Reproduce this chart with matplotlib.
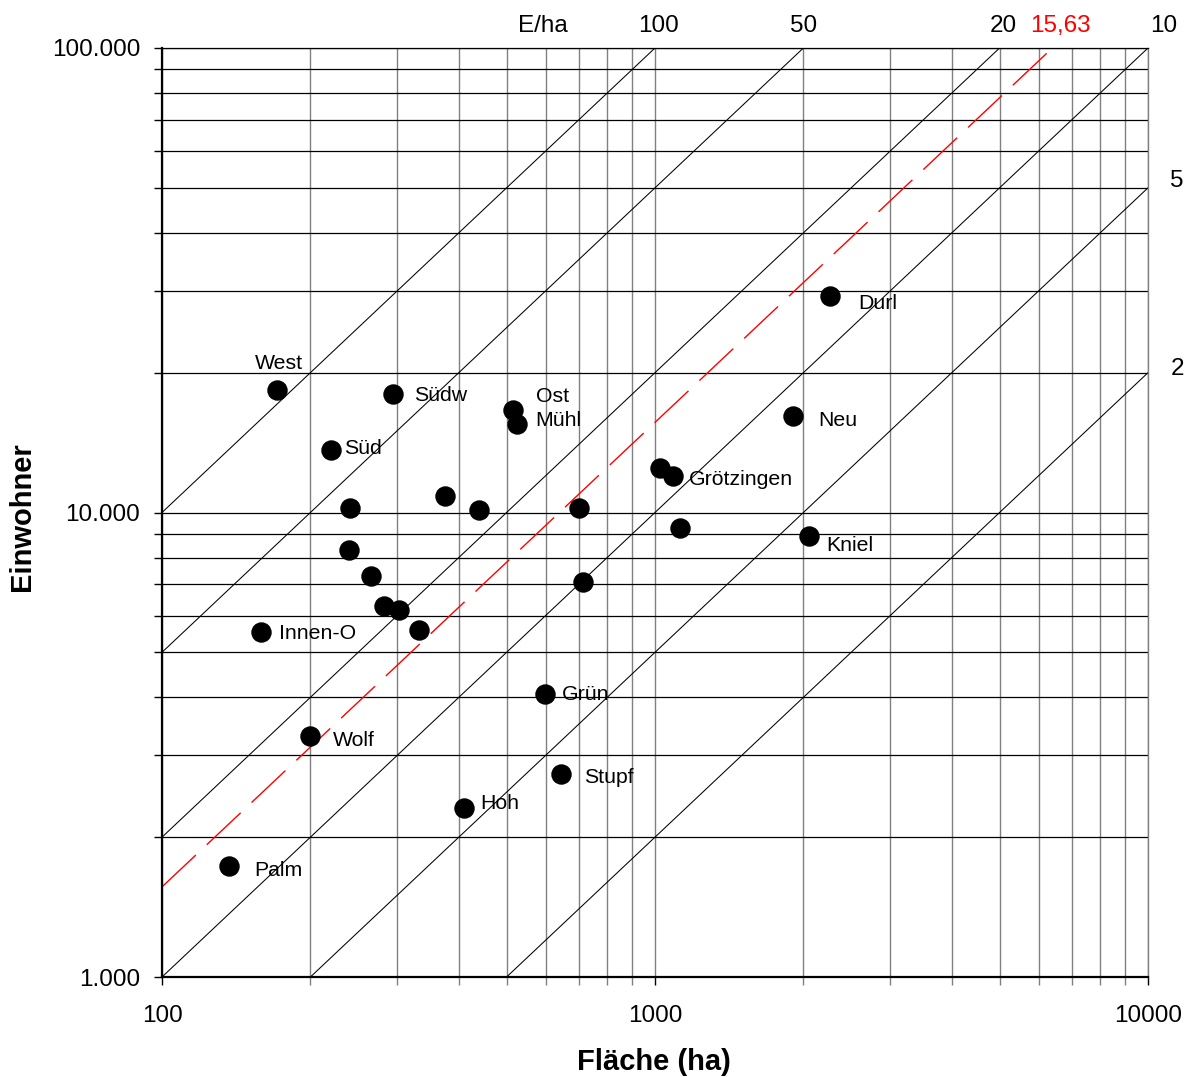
import matplotlib
matplotlib.use("Agg")
import matplotlib.pyplot as plt
from matplotlib.ticker import LogLocator, NullFormatter

plt.rcParams['font.family'] = ['Liberation Sans', 'DejaVu Sans']

# Stadtteile: Fläche (ha) und Einwohner
districts = ["West", "Südw", "Ost", "Mühl", "Süd", "Durl", "Neu", "", "Grötzingen",
             "", "", "", "", "", "Kniel", "", "", "", "", "", "", "Innen-O",
             "Grün", "Wolf", "Stupf", "Hoh", "Palm"]
area_ha = [171, 294, 514, 524, 220, 2267, 1905, 1023, 1088,
           375, 440, 241, 701, 1124, 2053, 239, 265, 714, 282, 302, 332, 159,
           598, 200, 645, 410, 137]
residents = [18350, 18000, 16620, 15500, 13630, 29250, 16130, 12470, 11980,
             10850, 10120, 10220, 10230, 9260, 8900, 8305, 7300, 7085, 6290, 6170, 5585, 5530,
             4067, 3303, 2735, 2311, 1734]

# Linien gleicher Dichte (E/ha) und Gesamtdichte
density_lines = [100, 50, 20, 10, 5, 2]
mean_density = 15.63

x_ticks = [100, 1000, 10000]
x_tick_labels = ["100", "1000", "10000"]
y_ticks = [1000, 10000, 100000]
y_tick_labels = ["1.000", "10.000", "100.000"]

# label placement (pixel offsets from the marker centre, y upwards)
label_offsets = {
    "West": (2, 27, "center"),
    "Südw": (21, -2, "left"),
    "Ost": (23, 14, "left"),
    "Mühl": (19, 4, "left"),
    "Süd": (13, 2, "left"),
    "Durl": (28, -8, "left"),
    "Neu": (25, -4, "left"),
    "Grötzingen": (16, -3, "left"),
    "Kniel": (17, -9, "left"),
    "Innen-O": (18, -1, "left"),
    "Grün": (17, -1, "left"),
    "Wolf": (22, -5, "left"),
    "Stupf": (23, -3, "left"),
    "Hoh": (16, 5, "left"),
    "Palm": (25, -5, "left"),
}
density_label_offsets = {100: (3, 22), 50: (0, 22), 20: (4, 22), 10: (16, 22),
                         5: (29, 7), 2: (29, 4)}

W, H = 1188, 1077
fig = plt.figure(figsize=(W / 100, H / 100), dpi=100)
ax = fig.add_axes([162 / W, 1 - 977 / H, (1148 - 162) / W, (977 - 48) / H])
ax.set_xscale("log")
ax.set_yscale("log")
xmin, xmax, ymin, ymax = 100, 10000, 1000, 100000
ax.set_xlim(xmin, xmax)
ax.set_ylim(ymin, ymax)

ax.xaxis.set_minor_locator(LogLocator(base=10, subs=range(2, 10)))
ax.yaxis.set_minor_locator(LogLocator(base=10, subs=range(2, 10)))
ax.xaxis.set_minor_formatter(NullFormatter())
ax.yaxis.set_minor_formatter(NullFormatter())
ax.set_xticks(x_ticks, x_tick_labels)
ax.set_yticks(y_ticks, y_tick_labels)

ax.set_axisbelow(True)
ax.grid(which="both", axis="x", color="#808080", lw=1.0)
ax.grid(which="both", axis="y", color="black", lw=0.9)

ax.tick_params(axis="both", which="both", direction="out", length=5.8, width=1.0)
ax.tick_params(axis="x", which="minor", color="#808080")
ax.tick_params(axis="y", which="both", labelsize=17.5, pad=10)
ax.tick_params(axis="x", which="both", labelsize=17.5, pad=14)

for side in ("left", "bottom"):
    ax.spines[side].set_linewidth(1.6)
    ax.spines[side].set_color("black")
ax.spines["top"].set_linewidth(0.9)
ax.spines["top"].set_color("black")
ax.spines["right"].set_linewidth(1.0)
ax.spines["right"].set_color("#808080")

# Dichtelinien
for d in density_lines:
    ax.plot([xmin, xmax], [d * xmin, d * xmax], color="black", lw=0.75, zorder=2)
    if ymax / d <= xmax:
        anchor = (ymax / d, ymax)
    else:
        anchor = (xmax, d * xmax)
    dx, dy = density_label_offsets[d]
    ax.annotate(str(d), xy=anchor, xytext=(dx, dy), textcoords="offset pixels",
                ha="center", va="center", fontsize=17.5, annotation_clip=False)

ax.plot([xmin, xmax], [mean_density * xmin, mean_density * xmax], color="red",
        lw=1.0, dashes=(33.5, 10.8), zorder=2)
ax.annotate(f"{mean_density:.2f}".replace(".", ","), xy=(ymax / mean_density, ymax),
            xytext=(8, 22), textcoords="offset pixels", ha="center", va="center",
            fontsize=17.5, color="red", annotation_clip=False)
ax.annotate("E/ha", xy=(0.3864, 1.0), xycoords="axes fraction", xytext=(0, 22),
            textcoords="offset pixels", ha="center", va="center", fontsize=17.5)

ax.plot(area_ha, residents, linestyle="none", marker="o", markersize=13.7,
        color="black", zorder=4)

for name, x, y in zip(districts, area_ha, residents):
    if not name:
        continue
    dx, dy, ha = label_offsets[name]
    ax.annotate(name, xy=(x, y), xytext=(dx, dy), textcoords="offset pixels",
                ha=ha, va="center", fontsize=15.3, zorder=5)

ax.set_xlabel("Fläche (ha)", fontsize=21, fontweight="bold")
ax.set_ylabel("Einwohner", fontsize=21, fontweight="bold")
ax.xaxis.label.set_va("center")
ax.yaxis.label.set_va("center")
ax.xaxis.set_label_coords((654 - 162) / 986, (977 - 1062) / 929)
ax.yaxis.set_label_coords((22 - 162) / 986, (977 - 517) / 929)

fig.savefig("out.png", dpi=100)
